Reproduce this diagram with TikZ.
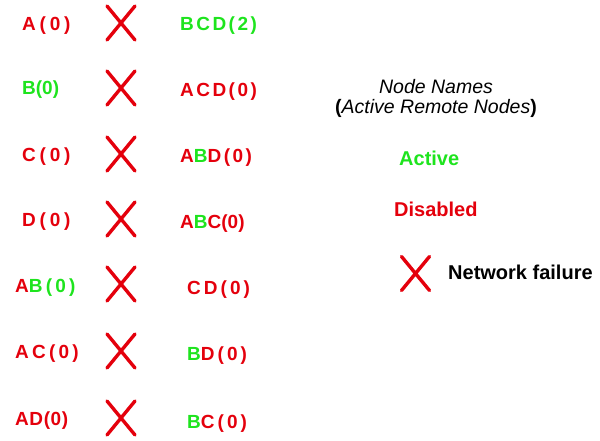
\documentclass[tikz,border=0pt]{standalone}
\usepackage{fontspec}
\setmainfont{Liberation Sans}
\definecolor{nred}{RGB}{228,0,12}
\definecolor{ngreen}{RGB}{30,228,30}
\newcommand\lsp[2]{{\addfontfeature{LetterSpace=#1}#2}}
\newcommand\gB{\textcolor{ngreen}{B}}
\tikzset{
  lab/.style={inner sep=0pt, anchor=base west, text=nred, font=\bfseries\fontsize{19}{19}\selectfont},
  glab/.style={lab, text=ngreen},
  failbox/.style={inner sep=0pt, outer sep=0pt, minimum width=28pt, minimum height=34pt},
  failline/.style={draw=nred, line width=3.4pt, line cap=round},
  legend/.style={inner sep=0pt, anchor=base west, font=\bfseries\fontsize{20}{20}\selectfont}
}
\newcommand\failx[1]{\draw[failline] (#1.north west) -- (#1.south east) (#1.north east) -- (#1.south west);}
\begin{document}
\begin{tikzpicture}[x=1pt,y=-1pt]
\useasboundingbox (0,0) rectangle (600,441);
% left column
\node[lab]  (l1) at (22,31)  {\lsp{20}{A(0)}};
\node[glab] (l2) at (22,95)  {\lsp{0}{B(0)}};
\node[lab]  (l3) at (22,161) {\lsp{20}{C(0)}};
\node[lab]  (l4) at (22,226) {\lsp{20}{D(0)}};
\node[lab]  (l5) at (15,292) {\lsp{17}{A\textcolor{ngreen}{B(0)}}};
\node[lab]  (l6) at (15,358) {\lsp{17}{AC(0)}};
\node[lab]  (l7) at (15,425) {\lsp{3}{AD(0)}};
% crosses
\node[failbox] (x1) at (121,23) {};
\node[failbox] (x2) at (121,88) {};
\node[failbox] (x3) at (121,154) {};
\node[failbox] (x4) at (121,219) {};
\node[failbox] (x5) at (121,284) {};
\node[failbox] (x6) at (121,351) {};
\node[failbox] (x7) at (121,418) {};
\failx{x1}\failx{x2}\failx{x3}\failx{x4}\failx{x5}\failx{x6}\failx{x7}
% right column
\node[glab] (r1) at (180,31)  {\lsp{13}{BCD(2)}};
\node[lab]  (r2) at (180,97)  {\lsp{13}{ACD(0)}};
\node[lab]  (r3) at (180,163) {\lsp{13}{A\gB D(0)}};
\node[lab]  (r4) at (180,228) {\lsp{0}{A\gB C(0)}};
\node[lab]  (r5) at (187,294) {\lsp{16}{CD(0)}};
\node[lab]  (r6) at (187,360) {\lsp{16}{\gB D(0)}};
\node[lab]  (r7) at (187,428) {\lsp{16}{\gB C(0)}};
% legend
\node[inner sep=0pt, anchor=base, font=\itshape\fontsize{19.5}{19.5}\selectfont] (t1) at (436,94) {Node Names};
\node[inner sep=0pt, anchor=base, font=\fontsize{19.5}{19.5}\selectfont] (t2) at (436,114) {\textbf{(}\textit{Active Remote Nodes}\textbf{)}};
\node[legend, text=ngreen] (act) at (399,166) {Active};
\node[legend, text=nred] (dis) at (394,216) {Disabled};
\node[failbox] (lx) at (415.5,273.5) {};
\failx{lx}
\node[legend] (nf) at (448,279) {Network failure};
\end{tikzpicture}
\end{document}
